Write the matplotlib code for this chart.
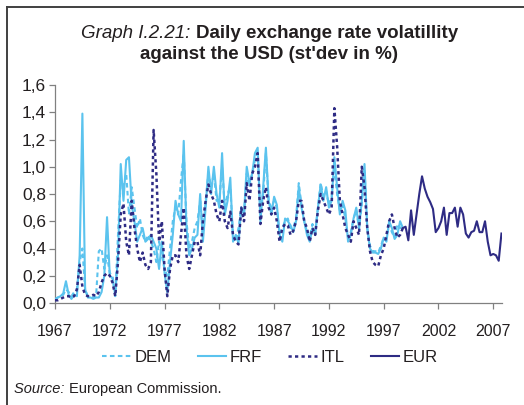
import numpy as np
import matplotlib
matplotlib.use("Agg")
import matplotlib.pyplot as plt
from matplotlib.lines import Line2D
from matplotlib.ticker import FuncFormatter

plt.rcParams['font.family'] = ['Liberation Sans', 'DejaVu Sans']

# ---- data (quarterly, st.dev in %) ----
start_year = 1967
frf = [
    0.03, 0.04, 0.05, 0.07,   # 1967
    0.16, 0.06, 0.03, 0.06,   # 1968
    0.05, 0.35, 1.39, 0.10,   # 1969
    0.04, 0.04, 0.03, 0.04,   # 1970
    0.04, 0.08, 0.20, 0.63,   # 1971
    0.20, 0.18, 0.06, 0.35,   # 1972
    1.02, 0.75, 1.05, 1.07,   # 1973
    0.72, 0.60, 0.45, 0.50,   # 1974
    0.55, 0.45, 0.47, 0.50,   # 1975
    0.45, 0.40, 0.25, 0.45,   # 1976
    0.22, 0.08, 0.30, 0.50,   # 1977
    0.75, 0.65, 0.60, 1.19,   # 1978
    0.55, 0.35, 0.40, 0.48,   # 1979
    0.50, 0.80, 0.45, 0.70,   # 1980
    1.00, 0.80, 1.00, 0.80,   # 1981
    0.70, 1.10, 0.65, 0.75,   # 1982
    0.92, 0.45, 0.50, 0.44,   # 1983
    0.70, 0.65, 1.00, 0.88,   # 1984
    0.95, 1.10, 1.14, 0.60,   # 1985
    0.85, 1.14, 0.75, 0.65,   # 1986
    0.78, 0.72, 0.50, 0.45,   # 1987
    0.62, 0.60, 0.57, 0.52,   # 1988
    0.60, 0.85, 0.70, 0.60,   # 1989
    0.50, 0.45, 0.55, 0.50,   # 1990
    0.70, 0.87, 0.75, 0.85,   # 1991
    0.70, 0.75, 1.07, 0.85,   # 1992
    0.65, 0.75, 0.68, 0.45,   # 1993
    0.50, 0.62, 0.70, 0.55,   # 1994
    0.75, 1.02, 0.55, 0.40,   # 1995
    0.37, 0.37, 0.36, 0.40,   # 1996
    0.48, 0.45, 0.60, 0.55,   # 1997
    0.47, 0.50, 0.60, 0.55,   # 1998
]
dem = [
    0.03, 0.04, 0.05, 0.06,
    0.10, 0.08, 0.05, 0.08,
    0.10, 0.30, 0.40, 0.10,
    0.05, 0.05, 0.04, 0.05,
    0.38, 0.40, 0.25, 0.35,
    0.22, 0.20, 0.05, 0.50,
    0.90, 0.85, 0.95, 0.65,
    0.85, 0.70, 0.55, 0.62,
    0.50, 0.45, 0.50, 0.45,
    0.40, 0.30, 0.45, 0.35,
    0.25, 0.20, 0.40, 0.60,
    0.70, 0.65, 0.90, 1.10,
    0.60, 0.40, 0.45, 0.55,
    0.60, 0.75, 0.50, 0.75,
    0.95, 0.85, 0.95, 0.75,
    0.75, 1.00, 0.70, 0.80,
    0.85, 0.50, 0.45, 0.55,
    0.70, 0.65, 0.95, 0.85,
    0.95, 1.05, 1.12, 0.65,
    0.80, 1.10, 0.75, 0.70,
    0.75, 0.70, 0.50, 0.55,
    0.60, 0.62, 0.55, 0.55,
    0.62, 0.88, 0.72, 0.60,
    0.52, 0.48, 0.58, 0.52,
    0.70, 0.88, 0.78, 0.82,
    0.72, 0.78, 1.00, 0.80,
    0.68, 0.72, 0.62, 0.48,
    0.52, 0.62, 0.68, 0.55,
    0.72, 0.98, 0.55, 0.42,
    0.38, 0.38, 0.37, 0.42,
    0.48, 0.47, 0.58, 0.52,
    0.48, 0.58, 0.55, 0.56,
]
itl = [
    0.02, 0.02, 0.03, 0.04,
    0.05, 0.05, 0.04, 0.05,
    0.10, 0.28, 0.12, 0.06,
    0.05, 0.05, 0.06, 0.05,
    0.08, 0.15, 0.20, 0.22,
    0.20, 0.15, 0.05, 0.30,
    0.65, 0.73, 0.45, 0.35,
    0.75, 0.55, 0.40, 0.30,
    0.37, 0.28, 0.25, 0.30,
    1.27, 0.95, 0.45, 0.60,
    0.25, 0.05, 0.25, 0.35,
    0.35, 0.30, 0.50, 0.70,
    0.35, 0.25, 0.35, 0.45,
    0.45, 0.35, 0.60, 0.75,
    0.87, 0.80, 0.75, 0.65,
    0.60, 0.75, 0.60, 0.55,
    0.67, 0.50, 0.45, 0.43,
    0.70, 0.60, 0.88, 0.75,
    0.95, 1.00, 1.10, 0.58,
    0.75, 0.85, 0.70, 0.65,
    0.70, 0.60, 0.45, 0.55,
    0.58, 0.57, 0.50, 0.53,
    0.60, 0.75, 0.75, 0.60,
    0.55, 0.45, 0.55, 0.50,
    0.68, 0.80, 0.75, 0.70,
    0.65, 0.70, 1.43, 1.15,
    0.75, 0.65, 0.55, 0.50,
    0.45, 0.60, 0.55, 0.50,
    1.00, 0.85, 0.55, 0.38,
    0.30, 0.28, 0.27, 0.35,
    0.40, 0.50, 0.60, 0.65,
    0.55, 0.48, 0.50, 0.55,
]
eur_start = 1998.75
eur = [
    0.55,
    0.56, 0.46, 0.68, 0.50,   # 1999
    0.65, 0.80, 0.93, 0.84,   # 2000
    0.78, 0.74, 0.69, 0.52,   # 2001
    0.55, 0.60, 0.70, 0.50,   # 2002
    0.66, 0.66, 0.70, 0.56,   # 2003
    0.70, 0.65, 0.51, 0.48,   # 2004
    0.52, 0.53, 0.60, 0.52,   # 2005
    0.52, 0.60, 0.45, 0.35,   # 2006
    0.36, 0.35, 0.31, 0.51,   # 2007
]
x_ticks = [1967, 1972, 1977, 1982, 1987, 1992, 1997, 2002, 2007]
y_ticks = [0.0, 0.2, 0.4, 0.6, 0.8, 1.0, 1.2, 1.4, 1.6]

t_old = start_year + np.arange(len(frf)) / 4.0
t_eur = eur_start + np.arange(len(eur)) / 4.0

light = '#5BC3EE'
dark = '#2E2B84'
txt = '#231F20'

W, H = 524, 405
fig = plt.figure(figsize=(W / 100, H / 100), dpi=100)
ax = fig.add_axes([55 / W, 1 - 303 / H, (502 - 55) / W, (303 - 85) / H])

ax.plot(t_old, dem, color=light, lw=1.5, ls=(0, (2.2, 1.6)), label='DEM', zorder=2)
ax.plot(t_old, frf, color=light, lw=1.5, label='FRF', zorder=3)
ax.plot(t_old, itl, color=dark, lw=1.8, ls=(0, (1.3, 1.3)), label='ITL', zorder=4)
ax.plot(t_eur, eur, color=dark, lw=1.5, label='EUR', zorder=5)

ax.set_xlim(1967, 2007.8)
ax.set_ylim(0, 1.6)
ax.set_xticks(x_ticks)
ax.set_yticks(y_ticks)
ax.yaxis.set_major_formatter(FuncFormatter(lambda v, p: f"{v:.1f}".replace('.', ',')))
for s in ['top', 'right']:
    ax.spines[s].set_visible(False)
for s in ['left', 'bottom']:
    ax.spines[s].set_color('#808080')
    ax.spines[s].set_linewidth(0.9)
ax.tick_params(axis='both', colors='#808080', labelcolor=txt,
               direction='out', length=4, width=0.9)
ax.tick_params(axis='x', pad=11, labelsize=11.5)
ax.tick_params(axis='y', pad=2.5, labelsize=12.5)

leg = fig.legend(loc='center', bbox_to_anchor=(270 / W, 1 - 357 / H), ncol=4,
                 frameon=False, fontsize=12, handlelength=1.7, columnspacing=1.6,
                 handletextpad=0.2)
for t in leg.get_texts():
    t.set_color(txt)

# frame lines
fig.add_artist(Line2D([7 / W, 1], [1 - 7 / H, 1 - 7 / H], transform=fig.transFigure,
                      color='#404040', lw=1.4))
fig.add_artist(Line2D([7 / W, 7 / W], [0, 1 - 7 / H], transform=fig.transFigure,
                      color='#404040', lw=1.4))

# title with mixed styles
fig.canvas.draw()
r = fig.canvas.get_renderer()

def mixed(parts, cx, y, size):
    objs = []
    for s, style, weight in parts:
        objs.append(fig.text(0, y, s, fontsize=size, style=style, weight=weight,
                             color=txt, va='baseline'))
    widths = [o.get_window_extent(r).width for o in objs]
    x0 = cx - sum(widths) / 2
    for o, w in zip(objs, widths):
        o.set_x(x0 / W)
        x0 += w
    return objs

mixed([("Graph I.2.21: ", 'italic', 'normal'),
       ("Daily exchange rate volatillity", 'normal', 'bold')], 269.5, 1 - 38 / H, 13.5)
mixed([("against the USD (st'dev in %)", 'normal', 'bold')], 269.5, 1 - 59 / H, 13.5)

objs = []
for s, style in [("Source: ", 'italic'), ("European Commission.", 'normal')]:
    objs.append(fig.text(0, 1 - 393 / H, s, fontsize=10.5, style=style, color=txt,
                         va='baseline'))
x0 = 14
for o in objs:
    o.set_x(x0 / W)
    x0 += o.get_window_extent(r).width

fig.savefig('out.png', dpi=100)
